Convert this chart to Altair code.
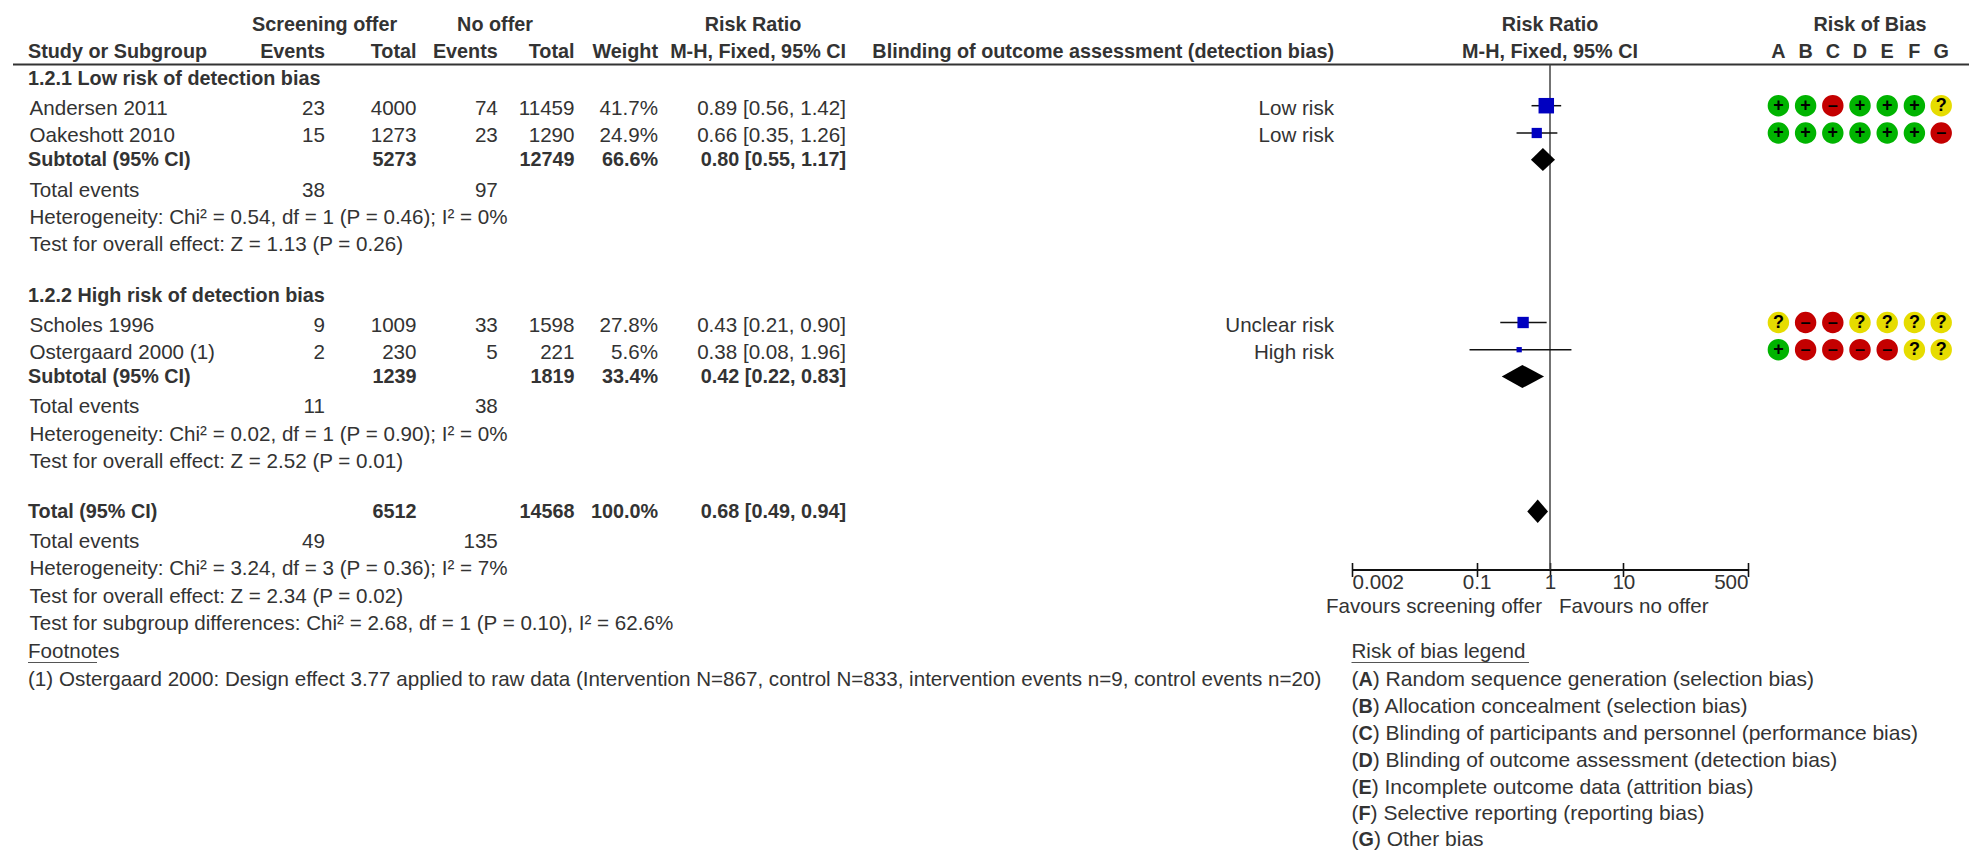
import altair as alt
import pandas as pd

# ---------- values ----------
studies = ["Andersen 2011", "Oakeshott 2010", "Scholes 1996", "Ostergaard 2000 (1)"]
ev1 = [23, 15, 9, 2]
tot1 = [4000, 1273, 1009, 230]
ev2 = [74, 23, 33, 5]
tot2 = [11459, 1290, 1598, 221]
weights = [41.7, 24.9, 27.8, 5.6]
rr = [0.89, 0.66, 0.43, 0.38]
lo = [0.56, 0.35, 0.21, 0.08]
hi = [1.42, 1.26, 0.90, 1.96]
blinding = ["Low risk", "Low risk", "Unclear risk", "High risk"]
bias = ["++-+++?", "++++++-", "?--????", "+----??"]

sub_names = ["Subtotal (95% CI)", "Subtotal (95% CI)", "Total (95% CI)"]
sub_tot1 = [5273, 1239, 6512]
sub_tot2 = [12749, 1819, 14568]
sub_w = ["66.6%", "33.4%", "100.0%"]
sub_rr = [0.80, 0.42, 0.68]
sub_lo = [0.55, 0.22, 0.49]
sub_hi = [1.17, 0.83, 0.94]

te1 = [38, 11, 49]
te2 = [97, 38, 135]
het = ["Heterogeneity: Chi² = 0.54, df = 1 (P = 0.46); I² = 0%",
       "Heterogeneity: Chi² = 0.02, df = 1 (P = 0.90); I² = 0%",
       "Heterogeneity: Chi² = 3.24, df = 3 (P = 0.36); I² = 7%"]
overall = ["Test for overall effect: Z = 1.13 (P = 0.26)",
           "Test for overall effect: Z = 2.52 (P = 0.01)",
           "Test for overall effect: Z = 2.34 (P = 0.02)"]
subgroup_test = "Test for subgroup differences: Chi² = 2.68, df = 1 (P = 0.10), I² = 62.6%"
footnote = "(1) Ostergaard 2000: Design effect 3.77 applied to raw data (Intervention N=867, control N=833, intervention events n=9, control events n=20)"
bias_letters = list("ABCDEFG")
legend_text = ["Random sequence generation (selection bias)",
               "Allocation concealment (selection bias)",
               "Blinding of participants and personnel (performance bias)",
               "Blinding of outcome assessment (detection bias)",
               "Incomplete outcome data (attrition bias)",
               "Selective reporting (reporting bias)",
               "Other bias"]
axis_ticks = [0.002, 0.1, 1, 10, 500]

# ---------- layout: rows and columns as scale definitions ----------
FS = 20.6
FSB = 19.8
FSL = 21
FONT = "Liberation Sans"
INK = "#333333"
H = 842
row_def = [("h1", 25), ("h2", 51.7), ("line", 64.5), ("g1", 79.3), ("s0", 105.7), ("s1", 133),
           ("t1_top", 148), ("t1", 159.7), ("t1_bot", 171), ("te1", 190.7), ("het1", 218), ("ov1", 245),
           ("g2", 295.7), ("s2", 322.5), ("s3", 349.7),
           ("t2_top", 365), ("t2", 376.5), ("t2_bot", 388), ("te2", 407), ("het2", 435), ("ov2", 461.7),
           ("t3_top", 499.5), ("t3", 511.5), ("t3_bot", 523), ("te3", 542), ("het3", 569),
           ("ax", 566.5 + 3), ("ov3", 596.7), ("fav", 606.7), ("sg", 624), ("foot", 652), ("ul", 662.5),
           ("L0", 679.7), ("L1", 706.7), ("L2", 733.7), ("L3", 760.7), ("L4", 787.5), ("L5", 814), ("L6", 839.5)]
row_def = sorted(row_def, key=lambda r: r[1])
R = {n: i for i, (n, _) in enumerate(row_def)}
y_scale = alt.Scale(domain=list(range(len(row_def))), range=[p - 8 for _, p in row_def], nice=False, zero=False)

paren_x = 1351.5
letter_x = paren_x + 0.333 * FSL
letter_w = [.722, .722, .722, .722, .667, .611, .778]
col_def = [("study", 28), ("study2", 29.5), ("fn_end", 97), ("sc_hdr", 324.6), ("e1", 325), ("t1", 416.5), ("noof_hdr", 495),
           ("e2", 497.8), ("t2", 574.5), ("w", 658), ("rr_hdr", 753), ("rr", 846), ("blind", 1334),
           ("fav_l", 1542), ("paren", paren_x), ("letter", letter_x)]
for L, w in zip(bias_letters, letter_w):
    col_def.append(("rest" + L, letter_x + w * FSB))
col_def += [("leg_end", 1529), ("fav_r", 1559), ("f_hdr", 1550)]
for L, p in zip(bias_letters, [1778.4, 1805.6, 1832.8, 1860, 1887.2, 1914.4, 1941.2]):
    col_def.append(("B" + L, p))
col_def.append(("rob_hdr", 1870))
col_def = sorted(col_def, key=lambda c: c[1])
C = {n: i for i, (n, _) in enumerate(col_def)}
x_scale = alt.Scale(domain=list(range(len(col_def))), range=[p - 8 for _, p in col_def], nice=False, zero=False)
f_scale = alt.Scale(type="log", domain=[0.002, 500], range=[1352 - 8, 1748 - 8], nice=False)

# ---------- tables ----------
left, right, b_left, b_right, b_center, row_left, row_right, legend_rows = [], [], [], [], [], [], [], []

def put(tbl, row, col, text):
    tbl.append({"row": R[row], "col": C[col], "label": str(text)})

put(b_center, "h1", "sc_hdr", "Screening offer")
put(b_center, "h1", "noof_hdr", "No offer")
put(b_center, "h1", "rr_hdr", "Risk Ratio")
put(b_center, "h1", "f_hdr", "Risk Ratio")
put(b_center, "h1", "rob_hdr", "Risk of Bias")
put(b_left, "h2", "study", "Study or Subgroup")
for c, t in [("e1", "Events"), ("t1", "Total"), ("e2", "Events"), ("t2", "Total"), ("w", "Weight"),
             ("rr", "M-H, Fixed, 95% CI"), ("blind", "Blinding of outcome assessment (detection bias)")]:
    put(b_right, "h2", c, t)
put(b_center, "h2", "f_hdr", "M-H, Fixed, 95% CI")
for L in bias_letters:
    put(b_center, "h2", "B" + L, L)

put(b_left, "g1", "study", "1.2.1 Low risk of detection bias")
put(b_left, "g2", "study", "1.2.2 High risk of detection bias")

for i, s in enumerate(studies):
    r = "s%d" % i
    put(row_left, r, "study2", s)
    put(row_right, r, "e1", ev1[i])
    put(row_right, r, "t1", tot1[i])
    put(row_right, r, "e2", ev2[i])
    put(row_right, r, "t2", tot2[i])
    put(row_right, r, "w", "%.1f%%" % weights[i])
    put(row_right, r, "rr", "%.2f [%.2f, %.2f]" % (rr[i], lo[i], hi[i]))
    put(row_right, r, "blind", blinding[i])

for i in range(3):
    n = i + 1
    r = "t%d" % n
    put(b_left, r, "study", sub_names[i])
    put(b_right, r, "t1", sub_tot1[i])
    put(b_right, r, "t2", sub_tot2[i])
    put(b_right, r, "w", sub_w[i])
    put(b_right, r, "rr", "%.2f [%.2f, %.2f]" % (sub_rr[i], sub_lo[i], sub_hi[i]))
    put(left, "te%d" % n, "study2", "Total events")
    put(right, "te%d" % n, "e1", te1[i])
    put(right, "te%d" % n, "e2", te2[i])
    put(left, "het%d" % n, "study2", het[i])
    put(left, "ov%d" % n, "study2", overall[i])
put(left, "sg", "study2", subgroup_test)
put(left, "foot", "study", "Footnotes")
put(left, "L0", "study", footnote)
put(left, "foot", "paren", "Risk of bias legend")
put(right, "fav", "fav_l", "Favours screening offer")
put(left, "fav", "fav_r", "Favours no offer")
for i, L in enumerate(bias_letters):
    r = "L%d" % i
    put(legend_rows, r, "paren", "(")
    put(b_left, r, "letter", L)
    put(legend_rows, r, "rest" + L, ") " + legend_text[i])

def text_layer(rows, align, weight="normal", dy=0, size=None):
    return alt.Chart(pd.DataFrame(rows)).mark_text(
        align=align, baseline="middle", font=FONT, fontSize=size or (FSB if weight == "bold" else FS),
        fontWeight=weight, color=INK, dy=dy
    ).encode(
        x=alt.X("col:Q", scale=x_scale, axis=None),
        y=alt.Y("row:Q", scale=y_scale, axis=None),
        text="label:N",
    )

layers = [
    text_layer(left, "left"), text_layer(right, "right"), text_layer(legend_rows, "left", size=FSL),
    text_layer(b_left, "left", "bold"), text_layer(b_right, "right", "bold"), text_layer(b_center, "center", "bold"),
    text_layer(row_left, "left", dy=3.3), text_layer(row_right, "right", dy=3.3),
]

# header rule and underlines
layers.append(alt.Chart(pd.DataFrame([{"row": R["line"]}])).mark_rule(color="#333333", strokeWidth=2).encode(
    x=alt.value(5), x2=alt.value(1969), y=alt.Y("row:Q", scale=y_scale, axis=None)))
ul = pd.DataFrame([{"row": R["ul"], "a": C["study"], "b": C["fn_end"]},
                   {"row": R["ul"], "a": C["paren"], "b": C["leg_end"]}])
layers.append(alt.Chart(ul).mark_rule(color="#555555", strokeWidth=1).encode(
    x=alt.X("a:Q", scale=x_scale, axis=None), x2="b:Q", y=alt.Y("row:Q", scale=y_scale, axis=None)))

# ---------- forest plot ----------
study_df = pd.DataFrame({"row": [R["s%d" % i] for i in range(4)], "rr": rr, "lo": lo, "hi": hi, "w": weights})
ref_df = pd.DataFrame({"x": [1], "a": [R["line"]], "b": [R["ax"]]})
layers.append(alt.Chart(ref_df).mark_rule(color="#444444", strokeWidth=1.5).encode(
    x=alt.X("x:Q", scale=f_scale, axis=None), y=alt.Y("a:Q", scale=y_scale, axis=None), y2="b:Q"))
layers.append(alt.Chart(study_df).mark_rule(color="#111111", strokeWidth=1.5).encode(
    x=alt.X("lo:Q", scale=f_scale, axis=None), x2="hi:Q", y=alt.Y("row:Q", scale=y_scale, axis=None)))
layers.append(alt.Chart(study_df).mark_square(color="#0000c0", opacity=1).encode(
    x=alt.X("rr:Q", scale=f_scale, axis=None), y=alt.Y("row:Q", scale=y_scale, axis=None),
    size=alt.Size("w:Q", scale=alt.Scale(domain=[5.6, 24.9, 41.7], range=[28, 105, 240]), legend=None)))

dia = []
for i in range(3):
    n = i + 1
    mid, top, bot = R["t%d" % n], R["t%d_top" % n], R["t%d_bot" % n]
    dia += [{"id": n, "x": sub_lo[i], "a": mid, "b": mid},
            {"id": n, "x": sub_rr[i], "a": top, "b": bot},
            {"id": n, "x": sub_hi[i], "a": mid, "b": mid}]
layers.append(alt.Chart(pd.DataFrame(dia)).mark_area(color="#000000", opacity=1).encode(
    x=alt.X("x:Q", scale=f_scale, axis=None), y=alt.Y("a:Q", scale=y_scale, axis=None), y2="b:Q", detail="id:N"))

# axis: one below and one above the same line, so the ticks cross it
axis_row = dict(row_def)["ax"]
ax_df = pd.DataFrame({"x": axis_ticks})
common = dict(values=axis_ticks, title=None, grid=False, domainColor="#111111", tickColor="#111111",
              domainWidth=2, tickWidth=1.6, tickSize=7)
layers.append(alt.Chart(ax_df).mark_point(opacity=0).encode(
    x=alt.X("x:Q", scale=f_scale, axis=alt.Axis(orient="bottom", offset=-(H - (axis_row - 8)), labelFlush=True,
            labelOverlap=False, format="~g", labelFont=FONT, labelFontSize=FS, labelColor=INK, labelPadding=-4, **common))))
layers.append(alt.Chart(ax_df).mark_point(opacity=0).encode(
    x=alt.X("x:Q", scale=f_scale, axis=alt.Axis(orient="top", offset=-(axis_row - 8), labels=False, **common))))

# ---------- risk of bias ----------
rob = []
for i, s in enumerate(bias):
    for L, v in zip(bias_letters, s):
        rob.append({"row": R["s%d" % i], "col": C["B" + L], "v": v, "sym": {"-": "–"}.get(v, v)})
rob_df = pd.DataFrame(rob)
layers.append(alt.Chart(rob_df).mark_circle(size=460, opacity=1).encode(
    x=alt.X("col:Q", scale=x_scale, axis=None), y=alt.Y("row:Q", scale=y_scale, axis=None),
    color=alt.Color("v:N", scale=alt.Scale(domain=["+", "-", "?"], range=["#00b400", "#c40000", "#e6dc00"]), legend=None)))
layers.append(alt.Chart(rob_df).mark_text(font=FONT, fontSize=18, fontWeight="bold", color="#000000", baseline="middle", align="center").encode(
    x=alt.X("col:Q", scale=x_scale, axis=None), y=alt.Y("row:Q", scale=y_scale, axis=None), text="sym:N"))

chart = alt.layer(*layers).resolve_scale(x="independent", color="independent", size="independent").properties(
    width=1961, height=H, padding=0, background="white", autosize=alt.AutoSizeParams(type="none")
).configure_view(strokeWidth=0)

chart.save("out.html", embed_options={"renderer": "svg", "actions": False})
